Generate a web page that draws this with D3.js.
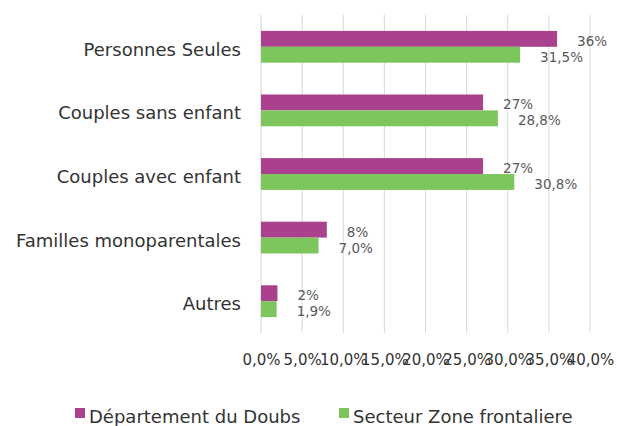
<!DOCTYPE html>
<html>
<head>
<meta charset="utf-8">
<script src="https://cdn.jsdelivr.net/npm/d3@7"></script>
<style>
  html, body { margin: 0; padding: 0; background: #fff; }
  svg { display: block; }
</style>
</head>
<body>
<svg id="chart" width="617" height="426"></svg>
<script>
// Household types, share of households (%)
const categories = ["Personnes Seules", "Couples sans enfant", "Couples avec enfant", "Familles monoparentales", "Autres"];
const seriesNames = ["Département du Doubs", "Secteur Zone frontaliere"];
const doubsValues = [36, 27, 27, 8, 2];
const zoneValues = [31.5, 28.8, 30.8, 7.0, 1.9];
const tickValues = [0, 5, 10, 15, 20, 25, 30, 35, 40];
const seriesColors = ["#a9418f", "#7dc55d"];

const fr = d3.formatLocale({ decimal: ",", thousands: " ", grouping: [3], currency: ["", " €"] });
const fmtTick = v => fr.format(".1f")(v) + "%";
const labelFormats = [v => fr.format(".0f")(v) + "%", v => fr.format(".1f")(v) + "%"];

const svg = d3.select("#chart");
const font = "'DejaVu Sans', Verdana, sans-serif";

const x = d3.scaleLinear().domain([0, 40]).range([261, 590]);
const y = d3.scaleBand().domain(categories).range([15, 333]).paddingInner(0.5).paddingOuter(0.25);
const ySub = d3.scaleBand().domain([0, 1]).range([0, y.bandwidth()]);

// vertical gridlines
svg.append("g").selectAll("line").data(tickValues.slice(1)).join("line")
  .attr("x1", d => x(d)).attr("x2", d => x(d))
  .attr("y1", 15).attr("y2", 333)
  .attr("stroke", "#d9d9d9").attr("stroke-width", 1);

// category axis line
svg.append("line")
  .attr("x1", x(0)).attr("x2", x(0)).attr("y1", 15).attr("y2", 333)
  .attr("stroke", "#d0d0d0").attr("stroke-width", 1);

// bars
const rows = categories.map((c, i) => ({ cat: c, vals: [doubsValues[i], zoneValues[i]] }));
const groups = svg.append("g").selectAll("g").data(rows).join("g")
  .attr("transform", d => `translate(0,${y(d.cat)})`);

groups.selectAll("rect").data(d => d.vals.map((v, s) => ({ v, s }))).join("rect")
  .attr("x", x(0))
  .attr("y", d => ySub(d.s))
  .attr("width", d => x(d.v) - x(0))
  .attr("height", ySub.bandwidth())
  .attr("fill", d => seriesColors[d.s]);

// value labels
groups.selectAll("text").data(d => d.vals.map((v, s) => ({ v, s }))).join("text")
  .attr("x", d => x(d.v) + 20)
  .attr("y", d => ySub(d.s) + ySub.bandwidth() / 2 + 7)
  .attr("font-family", font).attr("font-size", 13.5)
  .attr("fill", "#595959")
  .text(d => labelFormats[d.s](d.v));

// category labels
svg.append("g").selectAll("text").data(categories).join("text")
  .attr("x", 241)
  .attr("y", d => y(d) + y.bandwidth() / 2 + 9)
  .attr("text-anchor", "end")
  .attr("font-family", font).attr("font-size", 18)
  .attr("fill", "#333333")
  .text(d => d);

// value axis
const xAxis = d3.axisBottom(x).tickValues(tickValues).tickFormat(fmtTick).tickSize(0).tickPadding(0);
const ax = svg.append("g").attr("transform", "translate(0,365)").call(xAxis);
ax.select(".domain").remove();
ax.selectAll("text")
  .attr("font-family", font).attr("font-size", 15)
  .attr("fill", "#333333")
  .attr("dy", null)
  .attr("y", 0);

// legend
const legendX = [75, 339];
const legend = svg.append("g").selectAll("g").data(seriesNames).join("g")
  .attr("transform", (d, i) => `translate(${legendX[i]},408)`);
legend.append("rect").attr("width", 10).attr("height", 10).attr("fill", (d, i) => seriesColors[i]);
legend.append("text")
  .attr("x", 14).attr("y", 15)
  .attr("font-family", font).attr("font-size", 18)
  .attr("fill", "#333333")
  .text(d => d);
</script>
</body>
</html>
